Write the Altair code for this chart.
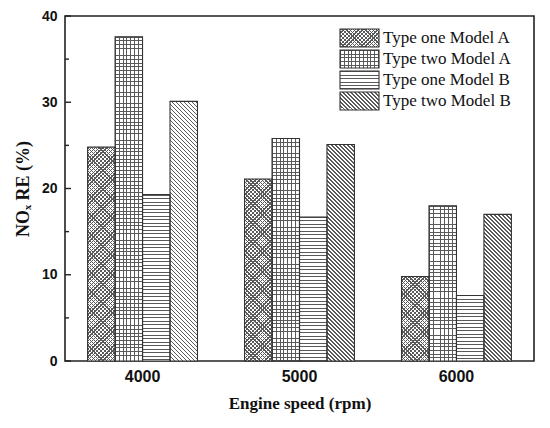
import altair as alt

# ---- data ----
speeds = ["4000", "5000", "6000"]
series = ["Type one Model A", "Type two Model A", "Type one Model B", "Type two Model B"]
one_model_a = [24.8, 21.1, 9.8]
two_model_a = [37.6, 25.8, 18.0]
one_model_b = [19.3, 16.7, 7.6]
two_model_b = [30.1, 25.1, 17.0]
y_ticks_major = [0, 10, 20, 30, 40]
y_ticks_minor = [5, 15, 25, 35]

values_by_series = [one_model_a, two_model_a, one_model_b, two_model_b]

# ---- layout constants ----
W, H = 469, 345
Y_MAX = 40
PAD_INNER, PAD_OUTER = 0.3, 0.144
STEP = W / (len(speeds) - PAD_INNER + 2 * PAD_OUTER)
BAR_W = STEP * (1 - PAD_INNER) / len(series)
PX = H / Y_MAX
SW_W, SW_H = 39, 18  # legend swatch size

LINE = "#5a5a5a"
BG = "#ffffff"
CLEAR = "rgba(255,255,255,0)"


def stops_for(length, period, thick, bg):
    stops = []
    k = 0
    while k * period < length - 1e-9:
        a = k * period / length
        b = min((k * period + thick) / length, 1.0)
        c = min((k + 1) * period / length, 1.0)
        stops.append({"offset": round(a, 5), "color": LINE})
        stops.append({"offset": round(b, 5), "color": LINE})
        if b < 1.0:
            stops.append({"offset": round(b, 5), "color": bg})
            stops.append({"offset": round(c, 5), "color": bg})
        k += 1
    return stops


def horiz(w, h, period, thick, bg):
    return {"gradient": "linear", "x1": 0, "y1": 0, "x2": 0, "y2": 1,
            "stops": stops_for(h, period, thick, bg)}


def vert(w, h, period, thick, bg):
    return {"gradient": "linear", "x1": 0, "y1": 0, "x2": 1, "y2": 0,
            "stops": stops_for(w, period, thick, bg)}


def diag_back(w, h, period, thick, bg):
    k = (w + h) / (w * w + h * h)
    return {"gradient": "linear", "x1": 0, "y1": 1, "x2": round(k * w, 6), "y2": round(1 - k * h, 6),
            "stops": stops_for(w + h, period, thick, bg)}


def diag_fwd(w, h, period, thick, bg):
    k = (w + h) / (w * w + h * h)
    return {"gradient": "linear", "x1": 0, "y1": 0, "x2": round(k * w, 6), "y2": round(k * h, 6),
            "stops": stops_for(w + h, period, thick, bg)}


def patterns(s, w, h):
    if s == series[0]:
        return diag_back(w, h, 3.8, 1.3, BG), diag_fwd(w, h, 3.8, 1.3, CLEAR)
    if s == series[1]:
        return horiz(w, h, 3.7, 0.9, BG), vert(w, h, 3.8, 0.9, CLEAR)
    if s == series[2]:
        return horiz(w, h, 3.5, 1.0, BG), "none"
    return diag_back(w, h, 4.0, 1.2, BG), "none"


records = []
for i, sp in enumerate(speeds):
    for s, vals in zip(series, values_by_series):
        v = vals[i]
        g1, g2 = patterns(s, BAR_W, v * PX)
        records.append({"speed": sp, "series": s, "value": v, "g1": g1, "g2": g2})

legend_records = []
for s in series:
    g1, g2 = patterns(s, SW_W, SW_H)
    legend_records.append({"series": s, "g1": g1, "g2": g2})

bar_data = alt.Data(values=records)
legend_data = alt.Data(values=legend_records)

x_scale = alt.Scale(domain=speeds, paddingInner=PAD_INNER, paddingOuter=PAD_OUTER)
y_scale = alt.Scale(domain=[0, Y_MAX], nice=False)

x_axis = alt.Axis(title="Engine speed (rpm)", ticks=False, domain=False, grid=False,
                  labelAngle=0, labelFont="Liberation Sans", labelFontWeight="bold",
                  labelFontSize=16, labelPadding=7, labelColor="#111",
                  titleFont="Liberation Serif", titleFontWeight="bold", titleFontSize=17,
                  titlePadding=11, titleColor="#111")
y_axis = alt.Axis(title="NOₓ RE (%)", values=y_ticks_major, ticks=False, domain=False, grid=False,
                  labelFont="Liberation Sans", labelFontWeight="bold", labelFontSize=14,
                  labelPadding=8, labelColor="#111",
                  titleFont="Liberation Serif", titleFontWeight="bold", titleFontSize=18,
                  titlePadding=9, titleColor="#111")


def bar_layer(mark, fill_field=None):
    enc = dict(
        x=alt.X("speed:N", scale=x_scale, axis=x_axis, sort=speeds),
        xOffset=alt.XOffset("series:N", sort=series,
                            scale=alt.Scale(domain=series, paddingInner=0, paddingOuter=0)),
        y=alt.Y("value:Q", scale=y_scale, axis=y_axis, stack=None),
    )
    if fill_field:
        enc["fill"] = alt.Fill(f"{fill_field}:N", scale=None)
    return alt.Chart(bar_data).mark_bar(**mark).encode(**enc)


bars1 = bar_layer(dict(strokeWidth=0), "g1")
bars2 = bar_layer(dict(strokeWidth=0), "g2")
bars_outline = bar_layer(dict(fill="none", stroke="#333333", strokeWidth=1.1))

ticks_major = alt.Chart(alt.Data(values=[{"value": v} for v in y_ticks_major])).mark_rule(
    color="#222", strokeWidth=1.4).encode(
    y=alt.Y("value:Q", scale=y_scale, axis=y_axis), x=alt.value(0), x2=alt.value(6))
ticks_minor = alt.Chart(alt.Data(values=[{"value": v} for v in y_ticks_minor])).mark_rule(
    color="#222", strokeWidth=1.4).encode(
    y=alt.Y("value:Q", scale=y_scale, axis=y_axis), x=alt.value(0), x2=alt.value(4))

main = alt.layer(bars1, bars2, bars_outline, ticks_major, ticks_minor)

legend_scale = alt.Scale(type="band", domain=series, range=[13, 94], paddingInner=0.143, paddingOuter=0)
ly = alt.Y("series:N", scale=legend_scale, axis=None, sort=series)
leg1 = alt.Chart(legend_data).mark_rect(strokeWidth=0).encode(
    y=ly, x=alt.value(275), x2=alt.value(275 + SW_W), fill=alt.Fill("g1:N", scale=None))
leg2 = alt.Chart(legend_data).mark_rect(strokeWidth=0).encode(
    y=ly, x=alt.value(275), x2=alt.value(275 + SW_W), fill=alt.Fill("g2:N", scale=None))
leg3 = alt.Chart(legend_data).mark_rect(fill="none", stroke="#333333", strokeWidth=1.1).encode(
    y=ly, x=alt.value(275), x2=alt.value(275 + SW_W))
leg_text = alt.Chart(legend_data).mark_text(
    align="left", baseline="middle", font="Liberation Serif", fontSize=17, color="#111").encode(
    y=ly, x=alt.value(318), text="series:N")

legend = alt.layer(leg1, leg2, leg3, leg_text)

chart = alt.layer(main, legend).resolve_scale(y="independent").properties(
    width=W, height=H, autosize="none",
    padding={"left": 57, "top": 8, "right": 8, "bottom": 59},
    background="white",
).configure_view(stroke="#222", strokeWidth=1.6)

chart.save("out.html", embed_options={"renderer": "svg", "actions": False})
